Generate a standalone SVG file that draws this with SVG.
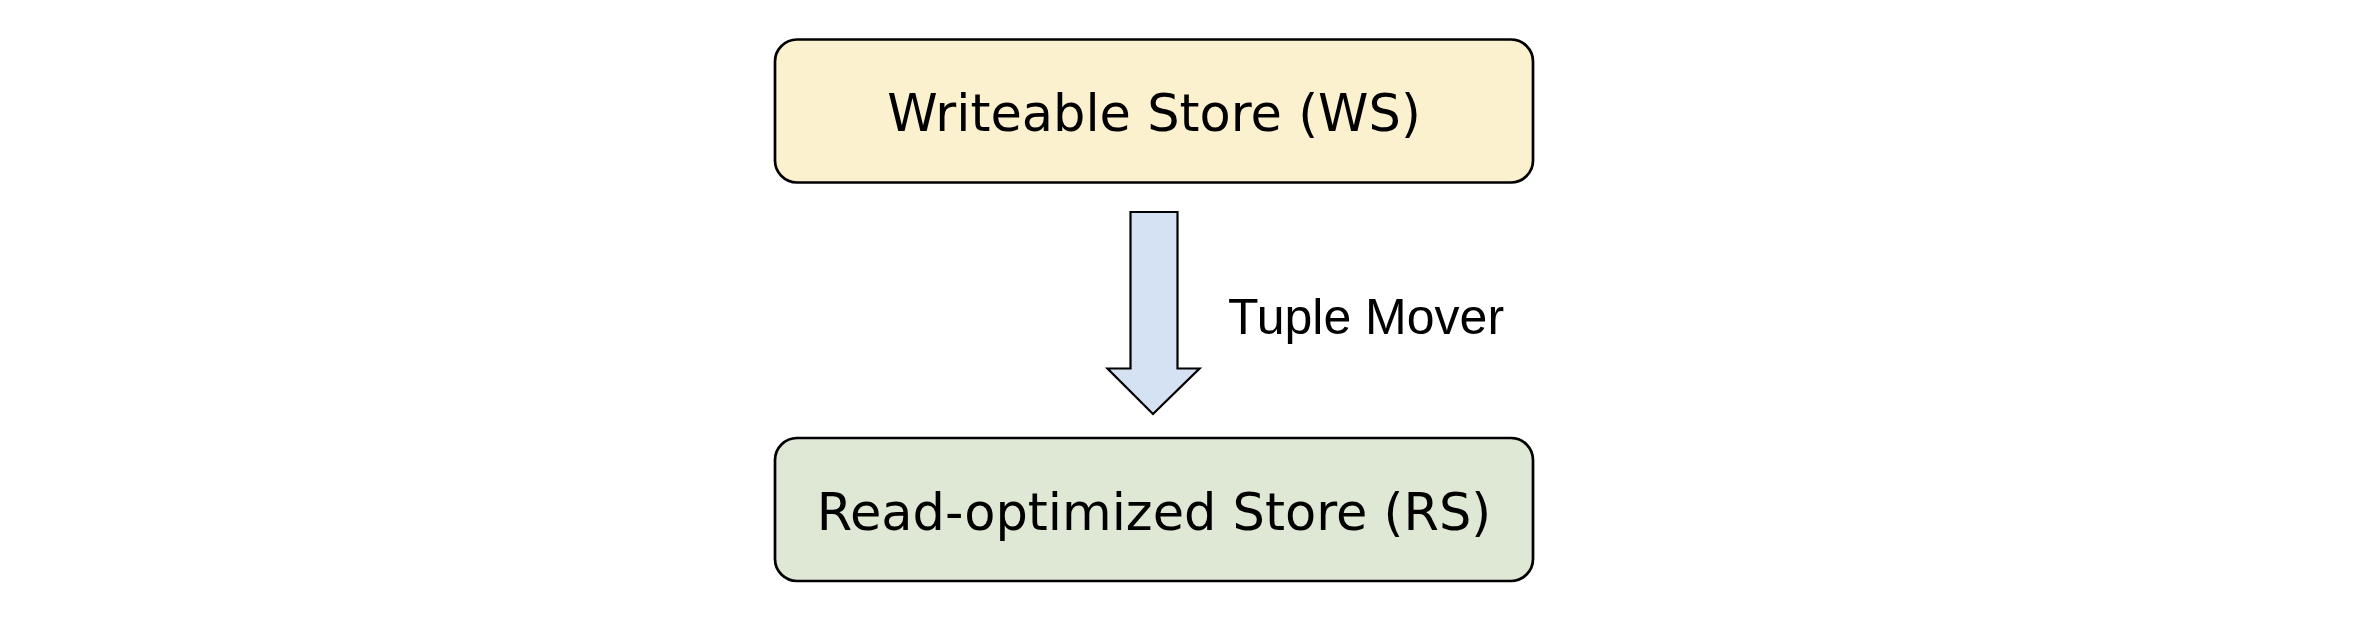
<svg xmlns="http://www.w3.org/2000/svg" width="2354" height="620" viewBox="0 0 2354 620">
<style>
.box{stroke:#000;stroke-width:2.7}
.lbl{font-family:"DejaVu Sans",sans-serif;font-size:51px;fill:#000;text-anchor:middle}
.edge{font-family:"Liberation Sans",Arial,sans-serif;font-size:50px;fill:#000}
</style>
<rect width="2354" height="620" fill="#fff"/>
<g id="ws">
<rect class="box" x="775" y="39.5" width="758" height="143" rx="22" fill="#fcf1cf"/>
<text class="lbl" x="1154" y="131">Writeable Store (WS)</text>
</g>
<g id="rs">
<rect class="box" x="775" y="438" width="758" height="143" rx="22" fill="#dee8d4"/>
<text class="lbl" x="1154" y="530">Read-optimized Store (RS)</text>
</g>
<g id="connectors">
<polygon points="1130.5,212 1177.5,212 1177.5,368.5 1199.5,368.5 1153,414 1107.5,368.5 1130.5,368.5" fill="#d5e2f3" stroke="#000" stroke-width="2.2" stroke-linejoin="miter"/>
<text class="edge" x="1228" y="334">Tuple Mover</text>
</g>
</svg>
